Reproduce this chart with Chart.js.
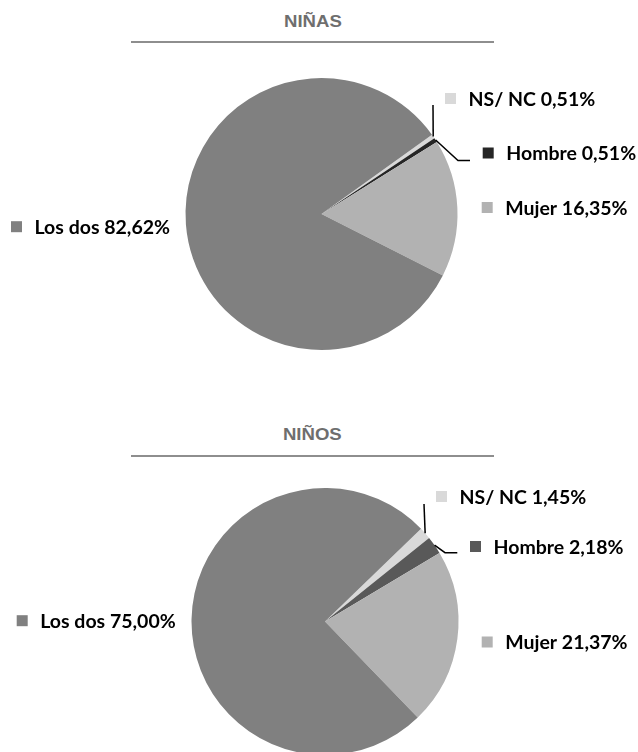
<!DOCTYPE html>
<html><head><meta charset="utf-8">
<script src="https://cdn.jsdelivr.net/npm/chart.js@4.4.0/dist/chart.umd.min.js"></script>
<style>
html,body{margin:0;padding:0;background:#fff;}
body{width:638px;height:752px;overflow:hidden;position:relative;}
.title{position:absolute;left:131px;width:363px;text-align:center;font:bold 16px "Liberation Sans",Arial,sans-serif;line-height:16px;color:#6e6e6e;}
.title span{display:inline-block;transform:scaleX(1.16);}
.rule{position:absolute;left:131px;width:363px;height:2px;background:#8e8e8e;}
canvas{position:absolute;left:0;}
</style></head><body>
<div class="title" style="top:14.2px"><span id="t1"></span></div>
<div class="rule" style="top:41px"></div>
<div class="title" style="top:426.5px"><span id="t2"></span></div>
<div class="rule" style="top:454.5px"></div>
<canvas id="c1" width="638" height="400" style="top:0"></canvas>
<canvas id="c2" width="638" height="360" style="top:400px"></canvas>
<script>
// ---- data ----
const categories = ["NS/ NC", "Hombre", "Mujer", "Los dos"];
const ninasValues = [0.51, 0.51, 16.35, 82.62];
const ninosValues = [1.45, 2.18, 21.37, 75.00];
const chartTitles = ["NIÑAS", "NIÑOS"];

// ---- styles / layout ----
const ninasColors = ["#d9d9d9", "#262626", "#b2b2b2", "#808080"];
const ninosColors = ["#d9d9d9", "#595959", "#b2b2b2", "#808080"];
const LABEL_FONT = 'bold 19.5px Lato, "Open Sans", sans-serif';

const ninasLabels = [
  {x: 445, y: 98.5, leader: [[433, 105]]},
  {x: 482.7, y: 153, leader: [[458, 160.5], [470, 160.5]]},
  {x: 481.7, y: 207.5},
  {x: 11, y: 226.7}
];
const ninosLabels = [
  {x: 436, y: 96.5, leader: [[424, 104]]},
  {x: 470, y: 146.5, leader: [[445, 152.7], [457.3, 152.7]]},
  {x: 481.7, y: 242},
  {x: 16.7, y: 220.7}
];

document.getElementById('t1').textContent = chartTitles[0];
document.getElementById('t2').textContent = chartTitles[1];

function fmt(v){ return v.toFixed(2).replace('.', ',') + '%'; }

const labelPlugin = {
  id: 'excelLabels',
  afterDatasetsDraw(chart, args, opts) {
    const ctx = chart.ctx;
    const meta = chart.getDatasetMeta(0);
    const ds = chart.data.datasets[0];
    ctx.save();
    meta.data.forEach((arc, i) => {
      const L = opts.layout[i];
      if (!L) return;
      const p = arc.getProps(['x','y','startAngle','endAngle','outerRadius'], true);
      const mid = (p.startAngle + p.endAngle) / 2;
      if (L.leader) {
        ctx.beginPath();
        ctx.moveTo(p.x + Math.cos(mid) * p.outerRadius, p.y + Math.sin(mid) * p.outerRadius);
        L.leader.forEach(pt => ctx.lineTo(pt[0], pt[1]));
        ctx.strokeStyle = '#000';
        ctx.lineWidth = 1.5;
        ctx.stroke();
      }
      ctx.fillStyle = ds.backgroundColor[i];
      ctx.fillRect(L.x, L.y - 5.5, 11, 11);
      ctx.fillStyle = '#000';
      ctx.font = LABEL_FONT;
      ctx.textBaseline = 'middle';
      ctx.textAlign = 'left';
      ctx.fillText(chart.data.labels[i] + ' ' + fmt(ds.data[i]), L.x + 23.5, L.y + 1);
    });
    ctx.restore();
  }
};

function makePie(id, values, colors, rotation, padding, layout) {
  return new Chart(document.getElementById(id), {
    type: 'pie',
    data: {
      labels: categories,
      datasets: [{data: values, backgroundColor: colors, borderWidth: 0, hoverOffset: 0}]
    },
    options: {
      responsive: false,
      animation: false,
      events: [],
      rotation: rotation,
      layout: {padding: padding},
      plugins: {
        legend: {display: false},
        tooltip: {enabled: false},
        excelLabels: {layout: layout}
      }
    },
    plugins: [labelPlugin]
  });
}

makePie('c1', ninasValues, ninasColors, 54.3,
  {left: 185.5, right: 180.5, top: 78, bottom: 50}, ninasLabels);
makePie('c2', ninosValues, ninosColors, 46,
  {left: 191.5, right: 179.5, top: 88, bottom: 5}, ninosLabels);
</script>
</body></html>
